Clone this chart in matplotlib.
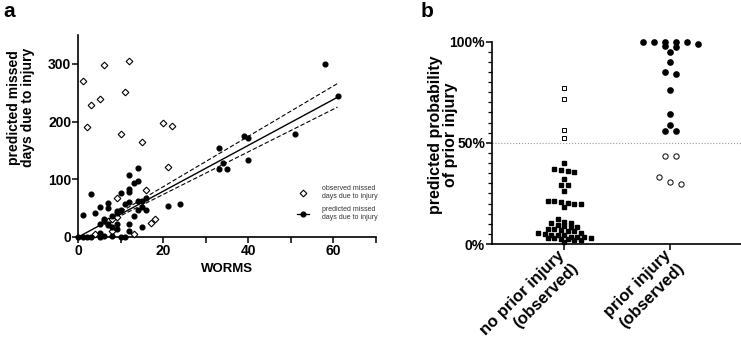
#!/usr/bin/env python3

import numpy as np
from matplotlib import pyplot as plt
from matplotlib.lines import Line2D

plt.rcParams['font.family'] = ['Liberation Sans', 'DejaVu Sans']
plt.rcParams['font.weight'] = 'bold'

# panel a: WORMS score vs missed days due to injury
obs_worms = [1, 2, 3, 5, 6, 12, 11, 10, 20, 22, 15, 21, 16, 9, 18, 17, 13, 4, 8, 7, 8, 9]
obs_days = [270, 190, 228, 239, 298, 305, 252, 179, 198, 192, 164, 122, 81, 67, 32, 24, 5, 5, 11, 27, 31, 35]

pred_worms = [58, 61, 39, 40, 51, 33, 33, 34, 35, 40, 24, 21,
              1, 3, 4, 5, 7, 7, 10, 12, 12, 12, 14, 14, 13, 11, 12, 14, 15, 14,
              15, 16, 16, 15, 9, 10, 8, 6, 5, 7, 8, 9, 12, 13, 12, 5, 6, 5, 8,
              10, 11, 0, 1, 2, 3, 6, 9, 7, 9]
pred_days = [300, 244, 175, 172, 179, 155, 118, 128, 117, 133, 57, 54,
             38, 75, 41, 52, 59, 51, 76, 108, 83, 78, 120, 97, 94, 57, 61, 62, 62, 47,
             52, 67, 46, 18, 45, 46, 36, 32, 23, 23, 17, 13, 23, 36, 10, 7, 1, 0, 1,
             0, 0, 0, 0, 0, 0, 28, 23, 21, 41]

fit_slope = 3.97
ci_low_slope = 3.69
ci_high_slope = 4.36
fit_range = [0, 61]
ci_range = [6, 61]

# panel b: predicted probability of prior injury (%)
no_prior_low = [40, 36.8, 36.3, 36, 35.5, 32.2, 29.1, 29.1, 26.2,
                21, 21, 20.6, 20.2, 20, 19.6, 18.5,
                12.5, 10.7, 10.5, 10.2, 9.3, 8.7, 8.5, 8.5,
                7.6, 7.5, 6.9, 6.6, 6.2, 5.6, 5.2, 4.8, 4.5,
                4.4, 4.2, 3.6, 3.4, 3.3, 3.2, 3.0, 2.9, 2.7, 2.3, 2.2, 2.0, 0.8]
no_prior_high = [77, 71.5, 56.5, 52.5]
prior_high = [100, 100, 100, 100, 100, 99, 98, 97.5, 95, 90, 85, 84, 76, 64, 59, 56, 56]
prior_low = [43.5, 43.3, 33.2, 30.6, 29.8]
categories = ['no prior injury\n(observed)', 'prior injury\n(observed)']


def swarm(values, step, h):
    # rows of nearby values, centred on the category
    values = np.asarray(values, dtype=float)
    order = np.argsort(-values, kind='stable')
    offsets = np.zeros(len(values))
    i = 0
    while i < len(order):
        top = values[order[i]]
        j = i
        while j < len(order) and top - values[order[j]] <= h:
            j += 1
        row = order[i:j]
        offsets[row] = (np.arange(len(row)) - (len(row) - 1) / 2) * step
        i = j
    return offsets


def main():
    fig = plt.figure(figsize=(7.41, 3.44), dpi=100)

    # ---- panel a
    ax = fig.add_axes([78.3 / 741, 1 - 237 / 344, 297.5 / 741, 202 / 344])
    xs = np.array(fit_range, dtype=float)
    ax.plot(xs, fit_slope * xs, color='black', lw=1.0, zorder=2)
    xc = np.array(ci_range, dtype=float)
    ax.plot(xc, ci_low_slope * xc, color='black', lw=0.8, ls=(0, (4, 2)), zorder=2)
    ax.plot(xc, ci_high_slope * xc, color='black', lw=0.8, ls=(0, (4, 2)), zorder=2)
    ax.plot(obs_worms, obs_days, 'D', ms=3.4, mfc='white', mec='black', mew=0.8,
            clip_on=False, zorder=3)
    ax.plot(pred_worms, pred_days, 'o', ms=3.4, color='black', clip_on=False, zorder=3)

    ax.set_xlim(0, 70)
    ax.set_ylim(0, 350)
    ax.set_xticks(np.arange(0, 71, 10))
    ax.set_xticklabels(['0', '', '20', '', '40', '', '60', ''])
    ax.set_yticks([0, 100, 200, 300])
    for s in ['top', 'right']:
        ax.spines[s].set_visible(False)
    for s in ['left', 'bottom']:
        ax.spines[s].set_linewidth(1.2)
    ax.tick_params(direction='out', length=4, width=1.1, labelsize=10, pad=1)
    ax.set_xlabel('WORMS', fontsize=9.5, fontweight='bold', labelpad=4)
    ax.set_ylabel('predicted missed\ndays due to injury', fontsize=10, fontweight='bold',
                  linespacing=1.0)
    ax.yaxis.set_label_coords(-0.146, 0.64)

    handles = [
        Line2D([], [], ls='none', marker='D', ms=3.4, mfc='white', mec='black', mew=0.8),
        Line2D([], [], color='black', lw=0.9, marker='o', ms=3.4),
    ]
    leg = ax.legend(handles, ['observed missed\ndays due to injury',
                              'predicted missed\ndays due to injury'],
                    loc='upper left', bbox_to_anchor=(0.725, 0.27), frameon=False,
                    prop={'size': 5, 'weight': 'normal'}, handlelength=1.8,
                    handletextpad=1.9, labelspacing=0.9, borderaxespad=0)
    for t in leg.get_texts():
        t.set_color('#333333')

    # ---- panel b
    bx = fig.add_axes([492 / 741, 1 - 244 / 344, 249 / 741, 202.5 / 344])
    bx.axhline(50, color='#999999', lw=0.8, ls=':', zorder=1)

    sq_step = 0.062
    ci_step = 0.104
    bx.plot(0 + swarm(no_prior_low, sq_step, 2.0), no_prior_low, 's', ms=3.3,
            color='black', clip_on=False, zorder=3)
    bx.plot(0 + swarm(no_prior_high, sq_step, 2.0), no_prior_high, 's', ms=3.3,
            mfc='white', mec='black', mew=0.7, clip_on=False, zorder=3)
    bx.plot(1 + swarm(prior_high, ci_step, 1.5), prior_high, 'o', ms=3.8,
            color='black', clip_on=False, zorder=3)
    bx.plot(1 + swarm(prior_low, ci_step, 4.0), prior_low, 'o', ms=3.8,
            mfc='white', mec='black', mew=0.7, clip_on=False, zorder=3)

    bx.set_xlim(-0.682, 1.667)
    bx.set_ylim(0, 100)
    bx.set_yticks([0, 50, 100])
    bx.set_yticklabels(['0%', '50%', '100%'])
    bx.set_yticks(np.arange(0, 101, 5), minor=True)
    for s in ['top', 'right']:
        bx.spines[s].set_visible(False)
    for s in ['left', 'bottom']:
        bx.spines[s].set_linewidth(1.2)
    bx.tick_params(direction='out', length=4, width=1.1, labelsize=10, pad=1)
    bx.tick_params(which='minor', direction='out', length=3, width=0.9)
    bx.set_xticks([0, 1])
    bx.set_xticklabels([])

    # rotated category names, one text per line, right aligned at the tick
    for i, name in enumerate(categories):
        for k, line in enumerate(name.split('\n')):
            bx.annotate(line, xy=(i, 0), xycoords=('data', 'axes fraction'),
                        xytext=(-5 + 9.5 * k, -2.5 - 9.5 * k), textcoords='offset points',
                        rotation=45, rotation_mode='anchor', ha='right', va='top',
                        fontsize=12, fontweight='bold', annotation_clip=False)

    bx.set_ylabel('predicted probability\nof prior injury', fontsize=11.5,
                  fontweight='bold', linespacing=1.0)
    bx.yaxis.set_label_coords(-0.135, 0.54)

    fig.text(3 / 741, 1 - 2 / 344, 'a', fontsize=15, fontweight='bold', va='top')
    fig.text(421 / 741, 1 - 2 / 344, 'b', fontsize=15, fontweight='bold', va='top')

    fig.savefig('out.png', dpi=100)


if __name__ == "__main__":
    main()
